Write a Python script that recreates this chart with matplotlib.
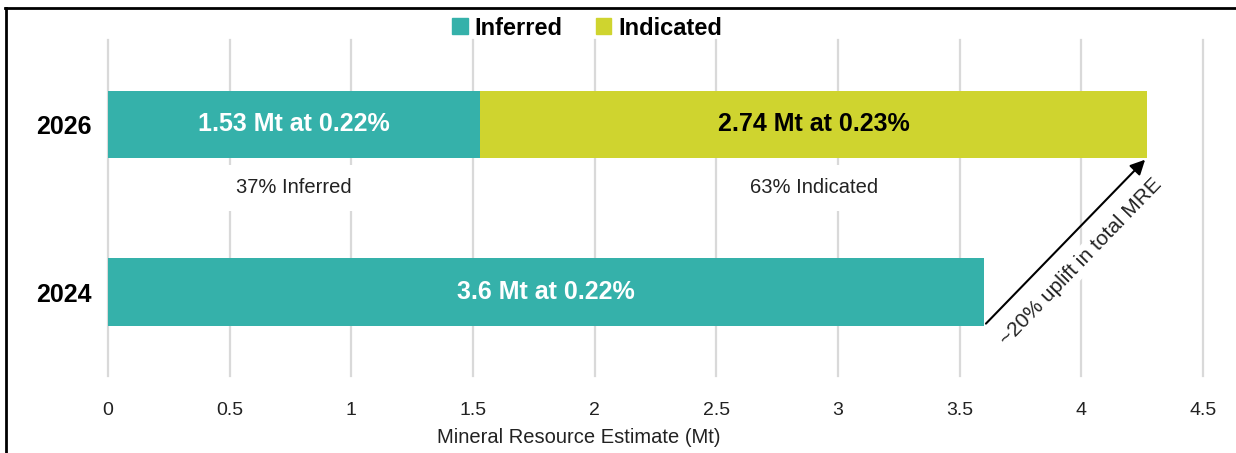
import matplotlib.pyplot as plt
from matplotlib.lines import Line2D
from matplotlib.patches import Patch

years = ['2024', '2026']
inferred = [3.6, 1.53]
indicated = [0.0, 2.74]
bar_labels_inf = ['3.6 Mt at 0.22%', '1.53 Mt at 0.22%']
bar_label_ind = '2.74 Mt at 0.23%'
share_labels = ['37% Inferred', '63% Indicated']
x_ticks = [0, 0.5, 1, 1.5, 2, 2.5, 3, 3.5, 4, 4.5]

teal = '#35B1AA'
lime = '#CFD42F'
plt.rcParams['font.family'] = ['Liberation Sans', 'DejaVu Sans']

fig = plt.figure(figsize=(12.36, 4.53), dpi=100)
ax = fig.add_axes([0.0874, 0.170, 0.8859, 0.7413])

y = [0, 1]
ax.barh(y, inferred, height=0.4, color=teal, zorder=2)
ax.barh(y, indicated, left=inferred, height=0.4, color=lime, zorder=2)

ax.set_xlim(0, 4.5)
ax.set_ylim(-0.5, 1.5)
ax.set_xticks(x_ticks)
ax.set_xticklabels([('%g' % t) for t in x_ticks], fontsize=14, color='#222222')
ax.set_yticks(y)
ax.set_yticklabels(years, fontsize=18, fontweight='bold')
ax.tick_params(axis='both', length=0)
ax.tick_params(axis='x', pad=19)
ax.tick_params(axis='y', pad=12)
for s in ax.spines.values():
    s.set_visible(False)
ax.grid(axis='x', color='#D9D9D9', lw=1.6, zorder=0)
for gl in ax.get_xgridlines():
    gl.set_clip_on(False)
ax.set_axisbelow(True)
ax.set_xlabel('Mineral Resource Estimate (Mt)', fontsize=14.5, color='#222222', labelpad=6, x=0.43)

# labels inside bars
ax.text(inferred[0] / 2, 0, bar_labels_inf[0], ha='center', va='center', color='white',
        fontsize=18, fontweight='bold', zorder=3)
ax.text(inferred[1] / 2, 1, bar_labels_inf[1], ha='center', va='center', color='white',
        fontsize=18, fontweight='bold', zorder=3)
ax.text(inferred[1] + indicated[1] / 2, 1, bar_label_ind, ha='center', va='center', color='black',
        fontsize=18, fontweight='bold', zorder=3)

# share labels under 2026 bar
box = dict(facecolor='white', edgecolor='none', pad=10)
ax.text(inferred[1] / 2, 0.62, share_labels[0], ha='center', va='center', fontsize=14.5,
        color='#222222', bbox=box, zorder=3)
ax.text(inferred[1] + indicated[1] / 2, 0.62, share_labels[1], ha='center', va='center', fontsize=14.5,
        color='#222222', bbox=box, zorder=3)

# uplift arrow
total_2026 = inferred[1] + indicated[1]
ax.annotate('', xy=(total_2026, 0.8), xytext=(inferred[0], -0.2),
            arrowprops=dict(arrowstyle='-|>', color='black', lw=1.5, mutation_scale=22), zorder=4)
ax.text(4.0, 0.18, '~20% uplift in total MRE', rotation=46, rotation_mode='anchor',
        ha='center', va='center', fontsize=15, color='#222222',
        bbox=dict(facecolor='white', edgecolor='none', pad=2), zorder=3)

handles = [Patch(color=teal), Patch(color=lime)]
fig.legend(handles, ['Inferred', 'Indicated'], loc='center', bbox_to_anchor=(0.475, 0.938),
           ncol=2, frameon=False, prop={'weight': 'bold', 'size': 17},
           handlelength=0.65, handleheight=0.65, handletextpad=0.3, columnspacing=1.4)

# outer frame (top and left)
fig.add_artist(Line2D([0.004, 1.0], [0.983, 0.983], color='black', lw=2, transform=fig.transFigure))
fig.add_artist(Line2D([0.005, 0.005], [0.0, 0.983], color='black', lw=2, transform=fig.transFigure))

fig.savefig('out.png', dpi=100)
